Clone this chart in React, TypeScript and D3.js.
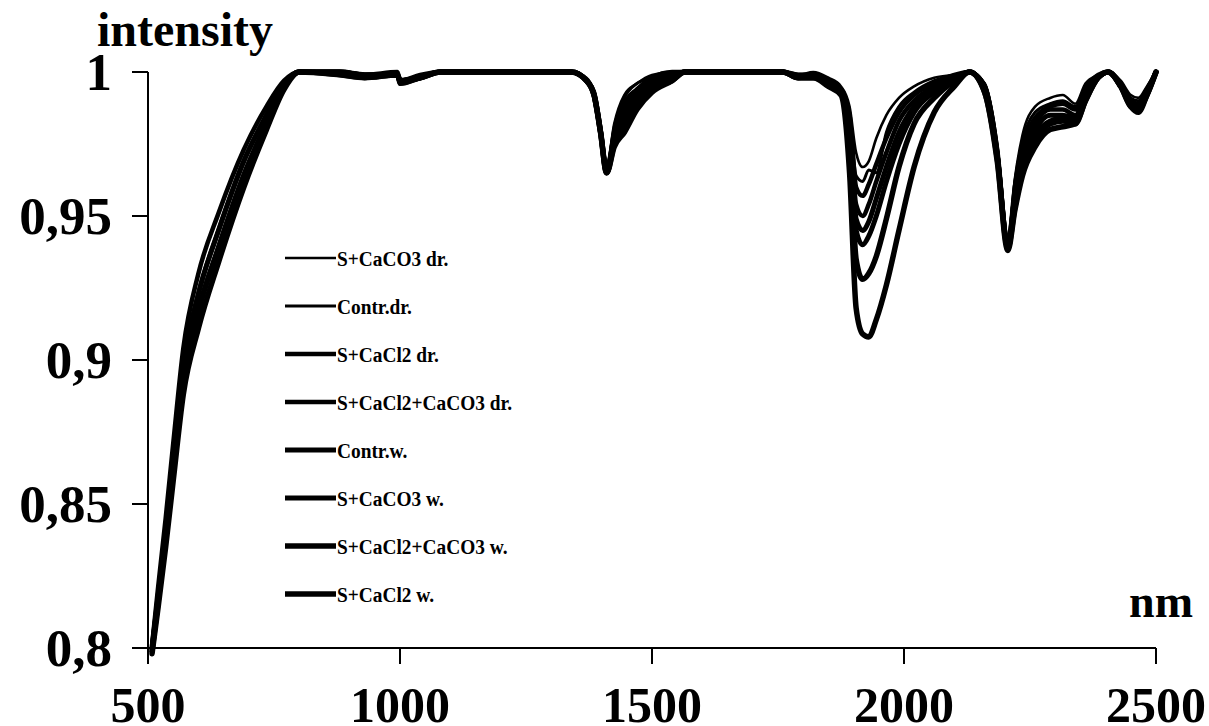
import React from "react";
import * as d3 from "d3";

// wavelengths (nm) shared by every series
const WAVELENGTHS = [
  508, 520, 535, 550, 570, 600, 640, 690, 735, 770, 800,
  880, 930, 995, 1000, 1040, 1080,
  1340, 1370, 1385, 1398, 1410, 1425, 1445, 1470, 1500, 1540, 1565,
  1760, 1790, 1820, 1850, 1875, 1892, 1905, 1918, 1930, 1945, 1965, 1990, 2020, 2060, 2100, 2130,
  2160, 2185, 2206, 2220, 2235, 2260, 2290, 2315, 2340, 2360, 2385, 2405, 2430, 2450, 2465, 2482, 2500,
];

const S_CACO3_DR = [
  0.801, 0.821, 0.845, 0.871, 0.904, 0.930, 0.951, 0.973, 0.988, 0.997, 1,
  1, 0.999, 1, 0.997, 0.999, 1,
  1, 0.998, 0.993, 0.980, 0.967, 0.982, 0.992, 0.996, 0.999, 1, 1,
  1, 0.999, 1, 0.998, 0.995, 0.988, 0.972, 0.967, 0.969, 0.977, 0.985, 0.991, 0.995, 0.998, 0.999, 1,
  0.996, 0.975, 0.941, 0.963, 0.978, 0.988, 0.991, 0.992, 0.989, 0.996, 0.999, 1, 0.997, 0.992, 0.991, 0.995, 1,
];
const CONTR_DR = [
  0.800, 0.818, 0.841, 0.866, 0.898, 0.923, 0.945, 0.969, 0.985, 0.996, 1,
  0.999, 0.998, 0.999, 0.997, 0.998, 1,
  1, 0.997, 0.993, 0.980, 0.966, 0.981, 0.991, 0.996, 0.998, 1, 1,
  1, 0.998, 0.999, 0.997, 0.994, 0.986, 0.964, 0.962, 0.966, 0.965, 0.979, 0.988, 0.993, 0.997, 0.999, 1,
  0.996, 0.974, 0.941, 0.962, 0.976, 0.986, 0.989, 0.990, 0.988, 0.995, 0.999, 1, 0.996, 0.991, 0.990, 0.994, 1,
];
const S_CACL2_DR = [
  0.801, 0.821, 0.845, 0.871, 0.904, 0.930, 0.951, 0.973, 0.988, 0.997, 1,
  1, 0.999, 0.999, 0.996, 0.998, 1,
  1, 0.997, 0.993, 0.980, 0.966, 0.979, 0.989, 0.994, 0.998, 1, 1,
  1, 0.999, 0.999, 0.997, 0.994, 0.985, 0.960, 0.957, 0.961, 0.968, 0.977, 0.986, 0.992, 0.996, 0.999, 1,
  0.995, 0.973, 0.940, 0.960, 0.974, 0.984, 0.988, 0.989, 0.987, 0.994, 0.999, 1, 0.996, 0.990, 0.989, 0.994, 1,
];
const S_CACL2_CACO3_DR = [
  0.800, 0.818, 0.841, 0.866, 0.898, 0.923, 0.945, 0.969, 0.985, 0.996, 1,
  1, 0.999, 1, 0.997, 0.999, 1,
  1, 0.997, 0.992, 0.979, 0.966, 0.978, 0.987, 0.993, 0.997, 0.999, 1,
  1, 0.998, 0.999, 0.996, 0.994, 0.983, 0.954, 0.950, 0.954, 0.962, 0.972, 0.983, 0.990, 0.995, 0.998, 1,
  0.995, 0.972, 0.940, 0.958, 0.972, 0.982, 0.987, 0.987, 0.985, 0.993, 0.998, 1, 0.996, 0.990, 0.988, 0.993, 1,
];
const CONTR_W = [
  0.799, 0.816, 0.838, 0.862, 0.893, 0.917, 0.939, 0.964, 0.982, 0.995, 1,
  0.999, 0.998, 0.999, 0.997, 0.998, 1,
  1, 0.997, 0.992, 0.979, 0.965, 0.977, 0.985, 0.992, 0.996, 0.999, 1,
  1, 0.998, 0.999, 0.996, 0.993, 0.981, 0.949, 0.945, 0.948, 0.956, 0.967, 0.979, 0.988, 0.994, 0.998, 1,
  0.994, 0.971, 0.940, 0.957, 0.970, 0.980, 0.985, 0.985, 0.984, 0.992, 0.998, 1, 0.995, 0.989, 0.988, 0.993, 1,
];
const S_CACO3_W = [
  0.800, 0.818, 0.841, 0.866, 0.898, 0.923, 0.945, 0.969, 0.985, 0.996, 1,
  1, 0.999, 0.999, 0.996, 0.998, 1,
  1, 0.997, 0.992, 0.979, 0.965, 0.976, 0.983, 0.990, 0.995, 0.998, 1,
  1, 0.999, 0.999, 0.996, 0.993, 0.980, 0.945, 0.940, 0.943, 0.950, 0.962, 0.975, 0.986, 0.993, 0.997, 1,
  0.994, 0.971, 0.939, 0.955, 0.968, 0.978, 0.983, 0.984, 0.983, 0.991, 0.998, 1, 0.995, 0.989, 0.987, 0.992, 1,
];
const S_CACL2_CACO3_W = [
  0.798, 0.814, 0.835, 0.858, 0.888, 0.911, 0.934, 0.960, 0.980, 0.994, 1,
  1, 0.999, 0.999, 0.997, 0.998, 1,
  1, 0.997, 0.992, 0.979, 0.965, 0.975, 0.981, 0.988, 0.994, 0.997, 1,
  1, 0.998, 0.998, 0.996, 0.993, 0.975, 0.935, 0.928, 0.930, 0.936, 0.949, 0.967, 0.982, 0.991, 0.997, 1,
  0.993, 0.970, 0.939, 0.953, 0.966, 0.976, 0.982, 0.983, 0.982, 0.990, 0.998, 1, 0.995, 0.988, 0.987, 0.992, 1,
];
const S_CACL2_W = [
  0.799, 0.816, 0.838, 0.862, 0.893, 0.917, 0.939, 0.964, 0.982, 0.995, 1,
  0.999, 0.998, 0.999, 0.997, 0.998, 1,
  1, 0.997, 0.992, 0.979, 0.965, 0.974, 0.979, 0.987, 0.993, 0.997, 1,
  1, 0.998, 0.998, 0.995, 0.992, 0.965, 0.918, 0.909, 0.908, 0.914, 0.926, 0.945, 0.967, 0.986, 0.995, 1,
  0.993, 0.969, 0.938, 0.952, 0.964, 0.974, 0.980, 0.981, 0.982, 0.990, 0.998, 1, 0.995, 0.988, 0.986, 0.992, 1,
];

const SERIES_NAMES = [
  "S+CaCO3 dr.",
  "Contr.dr.",
  "S+CaCl2 dr.",
  "S+CaCl2+CaCO3 dr.",
  "Contr.w.",
  "S+CaCO3 w.",
  "S+CaCl2+CaCO3 w.",
  "S+CaCl2 w.",
];
const SERIES_VALUES = [
  S_CACO3_DR, CONTR_DR, S_CACL2_DR, S_CACL2_CACO3_DR,
  CONTR_W, S_CACO3_W, S_CACL2_CACO3_W, S_CACL2_W,
];
const LINE_WIDTHS = [2.6, 3, 4.5, 4.5, 5, 5, 5.5, 5.5];

const X_TICKS = [500, 1000, 1500, 2000, 2500];
const Y_TICKS = [0.8, 0.85, 0.9, 0.95, 1];
const Y_TICK_LABELS = ["0,8", "0,85", "0,9", "0,95", "1"];

const FONT = "'Liberation Serif', 'Times New Roman', serif";

export default function App() {
  const WIDTH = 1209;
  const HEIGHT = 726;
  const margin = { top: 72, right: 53, bottom: 78, left: 148 };

  const x = d3.scaleLinear().domain([500, 2500]).range([margin.left, WIDTH - margin.right]);
  const y = d3.scaleLinear().domain([0.8, 1]).range([HEIGHT - margin.bottom, margin.top]);

  const line = d3
    .line<number>()
    .x((d, i) => x(WAVELENGTHS[i]))
    .y((d) => y(d))
    .curve(d3.curveMonotoneX);

  const x0 = x(500);
  const y0 = y(0.8);

  return (
    <svg
      width={WIDTH}
      height={HEIGHT}
      style={{ position: "absolute", left: 0, top: 0, background: "#fff" }}
      fontFamily={FONT}
      fontWeight="bold"
    >
      {/* y axis */}
      <g className="y-axis">
        <line x1={x0} x2={x0} y1={y(1)} y2={y0} stroke="#000" strokeWidth={2} />
        {Y_TICKS.map((t, i) => (
          <g key={i} transform={`translate(0,${y(t)})`}>
            <line x1={x0 - 16} x2={x0} y1={0} y2={0} stroke="#000" strokeWidth={2} />
            <text x={112} y={0} dy="0.34em" fontSize={53} textAnchor="end">
              {Y_TICK_LABELS[i]}
            </text>
          </g>
        ))}
      </g>

      {/* x axis */}
      <g className="x-axis">
        <line x1={x0 - 16} x2={x(2500)} y1={y0} y2={y0} stroke="#000" strokeWidth={2} />
        {X_TICKS.map((t, i) => (
          <g key={i} transform={`translate(${x(t)},${y0})`}>
            <line x1={0} x2={0} y1={0} y2={16} stroke="#000" strokeWidth={2} />
            <text x={0} y={74} fontSize={50} textAnchor="middle">
              {t}
            </text>
          </g>
        ))}
      </g>

      <text x={97} y={46} fontSize={48}>intensity</text>
      <text x={1193} y={617} fontSize={46} textAnchor="end">nm</text>

      {/* spectra */}
      <g fill="none" stroke="#000" strokeLinejoin="round" strokeLinecap="round">
        {SERIES_VALUES.map((vals, i) => (
          <path key={i} d={line(vals) || ""} strokeWidth={LINE_WIDTHS[i]} />
        ))}
      </g>

      {/* legend */}
      <g className="legend">
        {SERIES_NAMES.map((name, i) => {
          const ly = 258 + i * 48;
          return (
            <g key={i}>
              <line x1={285} x2={336} y1={ly} y2={ly} stroke="#000" strokeWidth={LINE_WIDTHS[i]} />
              <text transform={`translate(337,${ly}) scale(0.88,1)`} dy="0.35em" fontSize={22}>
                {name}
              </text>
            </g>
          );
        })}
      </g>
    </svg>
  );
}
